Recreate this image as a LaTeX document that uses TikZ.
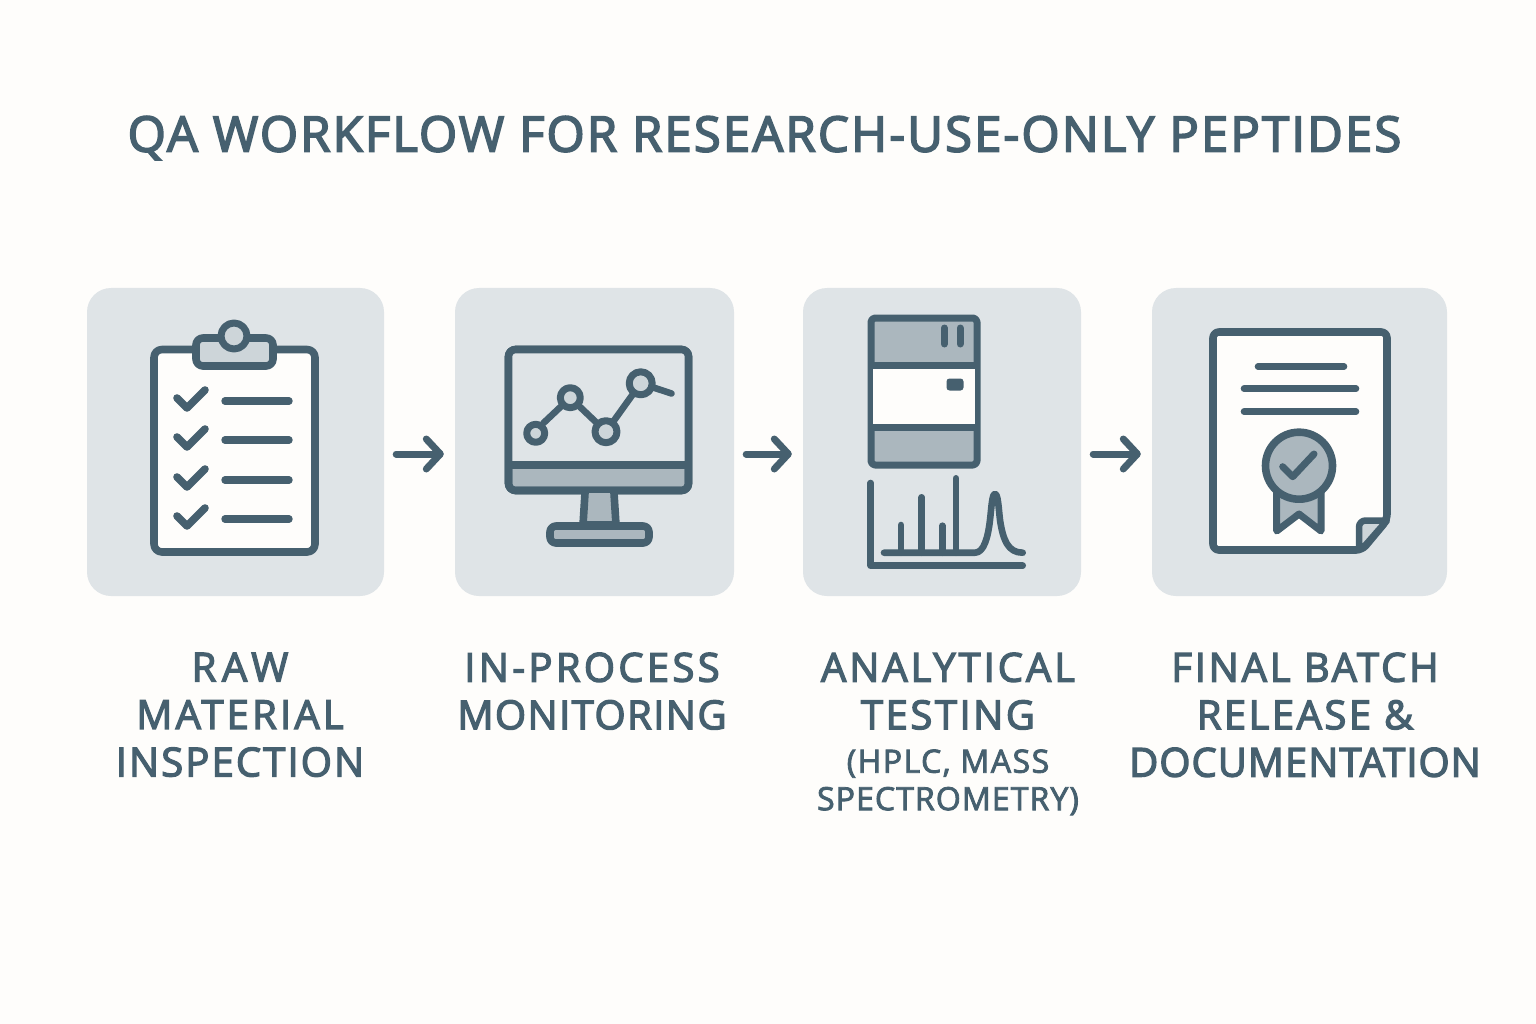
\documentclass[tikz,border=0pt]{standalone}
\usepackage{fontspec}
\usetikzlibrary{arrows.meta}
\newfontfamily\labfont[FakeBold=3.2]{Open Sans}
\newfontfamily\titfont[FakeBold=3.4,LetterSpace=4.4]{Open Sans}
\newfontfamily\subfont[FakeBold=2.6]{Open Sans}
\newcommand{\lsp}[2]{{\addfontfeature{LetterSpace=#1}#2}}
\definecolor{ink}{HTML}{46606F}
\definecolor{paper}{HTML}{FEFDFB}
\definecolor{panelc}{HTML}{DFE4E7}
\definecolor{midc}{HTML}{ABB7BE}
\definecolor{lightc}{HTML}{CDD5D9}
\tikzset{
  panel/.style={fill=panelc,draw=none,rounded corners=24pt,inner sep=0pt,minimum height=308pt},
  ic/.style={draw=ink,line width=7.6pt,line join=round},
  thin ic/.style={draw=ink,line width=6.6pt,line cap=round,line join=round},
  flow/.style={draw=ink,line width=7pt,line cap=round,shorten <=12pt,shorten >=11pt,
    -{Straight Barb[length=14pt,width=30pt,line width=7pt,round]}},
  lab/.style={text=ink,align=center,anchor=north,font=\labfont\fontsize{40}{47.5}\selectfont,inner sep=0pt},
}
\newcommand{\subl}[2]{{\subfont\fontsize{32}{37.5}\selectfont\addfontfeature{LetterSpace=#1}#2}}
\begin{document}
\begin{tikzpicture}[x=1pt,y=-1pt]
\useasboundingbox (0,0) rectangle (1536,1024);
\fill[paper] (0,0) rectangle (1536,1024);
% title
\node[text=ink,inner sep=0pt] (title) at (764.5,138) {\titfont\fontsize{49}{52}\selectfont QA WORKFLOW FOR RESEARCH-USE-ONLY PEPTIDES};
% panels
\node[panel,minimum width=297pt] (p1) at (235.5,442) {};
\node[panel,minimum width=279pt] (p2) at (594.5,442) {};
\node[panel,minimum width=278pt] (p3) at (942,442) {};
\node[panel,minimum width=295pt] (p4) at (1299.5,442) {};
% arrows
\draw[flow] ([yshift=-12pt]p1.east) -- ([yshift=-12pt]p2.west);
\draw[flow] ([yshift=-12pt]p2.east) -- ([yshift=-12pt]p3.west);
\draw[flow] ([yshift=-12pt]p3.east) -- ([yshift=-12pt]p4.west);
% clipboard
\draw[ic,fill=paper,rounded corners=8pt] (154,349.5) rectangle (315,552);
\draw[ic,fill=lightc,rounded corners=7pt] (196,338) rectangle (273,366);
\draw[ic,line width=7pt,fill=lightc] (234,336) circle (13);
\foreach \y in {401,440,480,519}{
  \draw[thin ic,line width=7.6pt] (177,\y-3) -- (187,\y+7) -- (205,\y-11);
  \draw[thin ic,line width=7.4pt] (225,\y) -- (289,\y);
}
% monitor
\draw[ic,fill=midc,rounded corners=7pt] (508.5,349.5) rectangle (688.5,490.5);
\fill[panelc] (511,352) rectangle (686,465);
\draw[ic,rounded corners=7pt] (508.5,349.5) rectangle (688.5,490.5);
\draw[ic] (508.5,465) -- (688.5,465);
\draw[ic,fill=midc] (585,493) -- (583,525) -- (616,525) -- (614,493);
\draw[ic,fill=midc,rounded corners=6pt] (550,526) rectangle (649,543);
\draw[thin ic] (543.5,423) -- (570.3,397.7) -- (606,431.7) -- (640.7,383.3) -- (671.5,393.5);
\draw[thin ic,line width=7pt,fill=lightc] (535.7,433.3) circle (9);
\draw[thin ic,line width=7pt,fill=lightc] (570.3,397.7) circle (10);
\draw[thin ic,line width=7pt,fill=lightc] (606,431.7) circle (11);
\draw[thin ic,line width=7pt,fill=lightc] (640.7,383.3) circle (11.5);
% instrument
\draw[ic,line width=7pt,fill=midc,rounded corners=4pt] (871,318) rectangle (977,465);
\fill[paper] (873,365) rectangle (975,427.5);
\draw[ic,line width=7pt] (871,365) -- (977,365);
\draw[ic,line width=7pt] (871,427.5) -- (977,427.5);
\draw[ic,line width=7pt,line cap=round] (944.3,328) -- (944.3,344);
\draw[ic,line width=7pt,line cap=round] (960,328) -- (960,344);
\fill[ink,rounded corners=3pt] (946.5,378.5) rectangle (963.5,390.5);
% chromatogram
\draw[thin ic] (870.7,483) -- (870.7,565.7) -- (1022.7,565.7);
\draw[thin ic] (884,552.7) -- (975,552.7) .. controls (984,552.7) and (988,537) .. (990,520)
  .. controls (991.5,507) and (992,494) .. (995,494)
  .. controls (998,494) and (998.5,507) .. (1000,520)
  .. controls (1003,540) and (1008,552.7) .. (1022.7,552.7);
\draw[thin ic] (901,552.7) -- (901,525);
\draw[thin ic] (921.7,552.7) -- (921.7,497.3);
\draw[thin ic] (942.3,552.7) -- (942.3,525.7);
\draw[thin ic] (956,552.7) -- (956,478.3);
% document
\draw[ic,fill=paper,rounded corners=6pt] (1213,332) -- (1387,332) -- (1387,520) -- (1362,550) -- (1213,550) -- cycle;
\draw[ic,line width=6.5pt,fill=lightc] (1359,550) -- (1359,527) arc[start angle=180,end angle=270,radius=6.5] -- (1387,520.5) -- (1362,549);
\draw[thin ic] (1258,366.5) -- (1344,366.5);
\draw[thin ic] (1244,388.7) -- (1356,388.7);
\draw[thin ic] (1244,411.7) -- (1356,411.7);
\draw[thin ic,line width=7pt,fill=midc] (1276.7,490) -- (1276.7,531) -- (1299,514) -- (1321,531) -- (1321,490);
\draw[ic,fill=midc] (1299,465.7) circle (33.5);
\draw[ic,line width=7pt,line cap=round] (1282.7,466.7) -- (1292.7,476.7) -- (1314,454);
% labels
\node[lab] (l1) at (240,652.5) {\lsp{14}{RAW}\\\lsp{8}{MATERIAL}\\\lsp{5.3}{INSPECTION}};
\node[lab] (l2) at (592,652.5) {\lsp{8.3}{IN-PROCESS}\\\lsp{3.6}{MONITORING}};
\node[lab] (l3) at (948,652.5) {\lsp{7.4}{ANALYTICAL}\\\lsp{6.3}{TESTING}\\[-4pt]\subl{4.7}{(HPLC, MASS}\\[-10pt]\subl{3.4}{SPECTROMETRY)}};
\node[lab] (l4) at (1305,652.5) {\lsp{7}{FINAL BATCH}\\\lsp{6.2}{RELEASE \&}\\\lsp{2.5}{DOCUMENTATION}};
\end{tikzpicture}
\end{document}
